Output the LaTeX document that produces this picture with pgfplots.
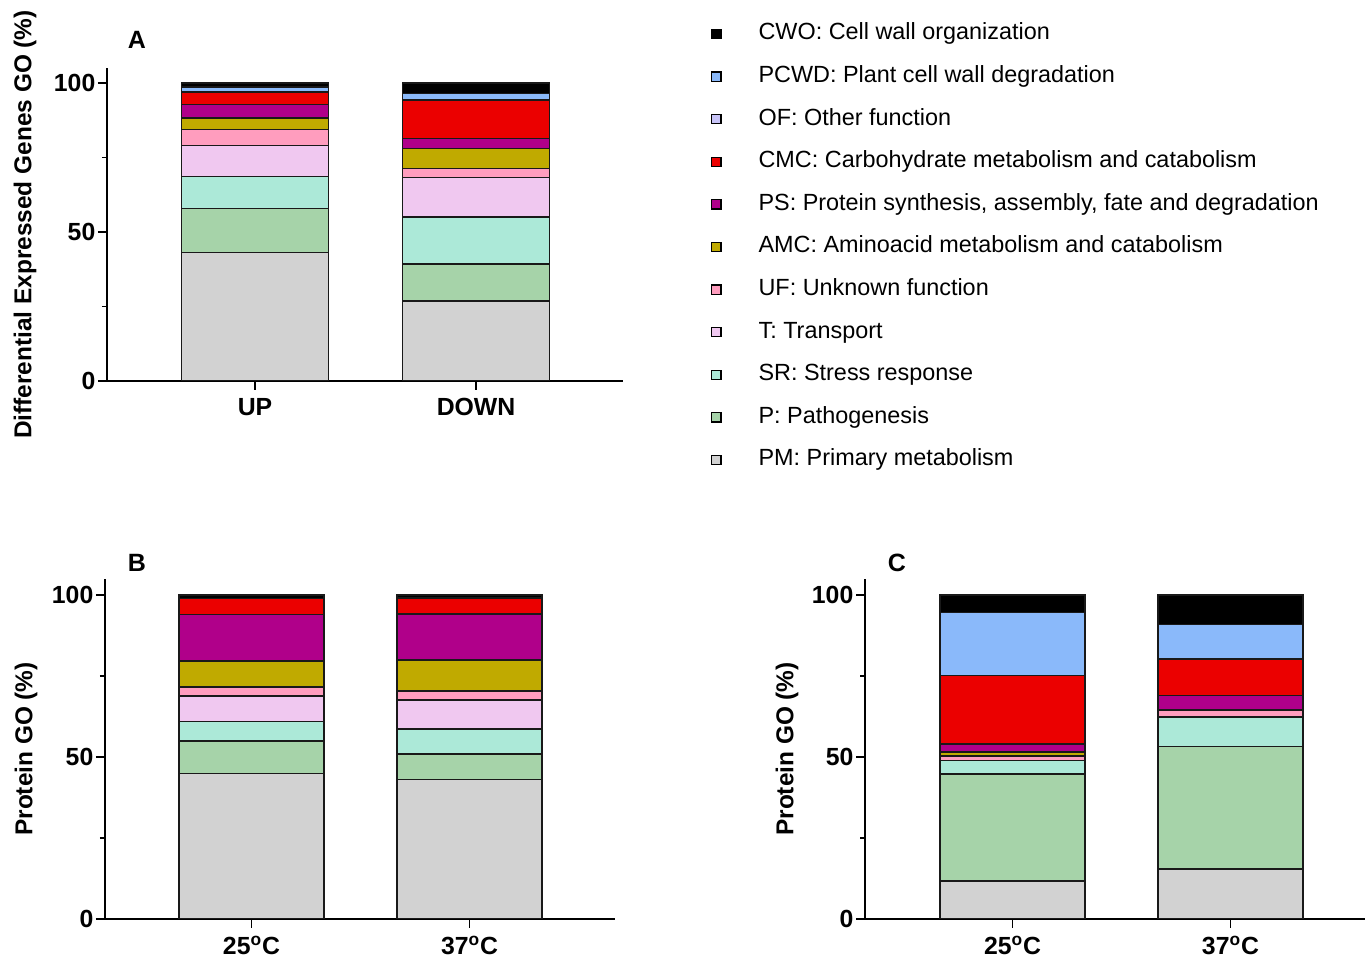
\documentclass[border=0pt]{standalone}
\usepackage{pgfplots}
\usepackage{pgfplotstable}
\pgfplotsset{compat=1.18}
\usepackage{fontspec}
\setmainfont{Liberation Sans}

\definecolor{cCWO}{HTML}{000000}
\definecolor{cPCWD}{HTML}{8AB9FA}
\definecolor{cOF}{HTML}{C8C4F8}
\definecolor{cCMC}{HTML}{EB0000}
\definecolor{cPS}{HTML}{B0008A}
\definecolor{cAMC}{HTML}{C0AA00}
\definecolor{cUF}{HTML}{FF9DBE}
\definecolor{cT}{HTML}{F0C8F0}
\definecolor{cSR}{HTML}{ACE9D8}
\definecolor{cP}{HTML}{A6D3A9}
\definecolor{cPM}{HTML}{D2D2D2}

\pgfplotstableread{
x PM P SR T UF AMC PS CMC OF PCWD CWO
0 43.1 14.8 10.7 10.4 5.4 3.9 4.4 4.2 0 1.8 1.3
1 26.9 12.4 15.7 13.3 3.0 6.7 3.3 12.9 0 2.2 3.6
}\dataA
\pgfplotstableread{
x PM P SR T UF AMC PS CMC OF PCWD CWO
0 44.9 10.1 6.0 7.9 2.8 8.0 14.3 5.0 0 0 1.0
1 43.1 7.9 7.6 9.0 2.8 9.5 14.2 5.0 0 0 0.9
}\dataB
\pgfplotstableread{
x PM P SR T UF AMC PS CMC OF PCWD CWO
0 11.8 32.9 4.2 0 1.5 1.1 2.6 21.1 0 19.5 5.3
1 15.5 37.8 9.1 0 2.2 0 4.4 11.2 0 10.8 9.0
}\dataC

\newcommand\stackbars[1]{%
  \addplot[fill=cPM] table[x=x,y=PM]{#1};
  \addplot[fill=cP] table[x=x,y=P]{#1};
  \addplot[fill=cSR] table[x=x,y=SR]{#1};
  \addplot[fill=cT] table[x=x,y=T]{#1};
  \addplot[fill=cUF] table[x=x,y=UF]{#1};
  \addplot[fill=cAMC] table[x=x,y=AMC]{#1};
  \addplot[fill=cPS] table[x=x,y=PS]{#1};
  \addplot[fill=cCMC] table[x=x,y=CMC]{#1};
  \addplot[fill=cOF] table[x=x,y=OF]{#1};
  \addplot[fill=cPCWD] table[x=x,y=PCWD]{#1};
  \addplot[fill=cCWO] table[x=x,y=CWO]{#1};
}

\pgfplotsset{
  mybar/.style={
    scale only axis,
    anchor=south west,
    ybar stacked,
    ymin=0, ymax=105,
    ytick={0,50,100}, minor ytick={25,75},
    xtick={0,1},
    axis x line*=bottom, axis y line*=left,
    tick align=outside,
    major tick length=4.5pt, minor tick length=2.5pt,
    major tick style={black, line width=0.75pt},
    minor tick style={black, line width=0.75pt},
    axis line style={line width=0.75pt, -},
    ticklabel style={font=\bfseries\fontsize{12.4}{14}\selectfont},
    yticklabel style={xshift=2.2pt},
    xticklabel style={inner sep=0pt, text depth=0pt, yshift=-3.8pt},
    /pgf/number format/assume math mode=true,
    every axis plot/.append style={draw=black!90, line width=0.8pt},
    ylabel style={font=\bfseries\fontsize{12.2}{14}\selectfont, anchor=center},
  },
  legsq/.style={legend image code/.code={\draw[fill=#1, draw=black, line width=0.6pt] (0pt,-2.3pt) rectangle (4.6pt,2.3pt);}},
}

\begin{document}
\begin{tikzpicture}
\path[use as bounding box] (0,0) rectangle (683.5pt,478.5pt);

% Panel A
\begin{axis}[mybar, at={(53.5pt,288pt)}, width=258pt, height=156.5pt,
  bar width=73.5pt, xmin=-0.67, xmax=1.665,
  xticklabels={UP,DOWN},
  ylabel={Differential Expressed Genes GO (\%)},
  ylabel style={at={(axis description cs:-0.159,0.5)}},
]
\stackbars{\dataA}
\end{axis}

% Panel B
\begin{axis}[mybar, at={(52.5pt,19pt)}, width=255pt, height=170pt,
  bar width=72.5pt, xmin=-0.672, xmax=1.667,
  xticklabels={25\textsuperscript{o}C,37\textsuperscript{o}C},
  ylabel={Protein GO (\%)},
  ylabel style={at={(axis description cs:-0.155,0.5)}},
]
\stackbars{\dataB}
\end{axis}

% Panel C
\begin{axis}[mybar, at={(432.5pt,19pt)}, width=250pt, height=170pt,
  bar width=72.5pt, xmin=-0.677, xmax=1.617,
  xticklabels={25\textsuperscript{o}C,37\textsuperscript{o}C},
  ylabel={Protein GO (\%)},
  ylabel style={at={(axis description cs:-0.156,0.5)}},
]
\stackbars{\dataC}
\end{axis}

% Legend
\begin{axis}[scale only axis, hide axis, width=100pt, height=100pt,
  at={(355.6pt,367pt)}, anchor=south west,
  xmin=0, xmax=1, ymin=0, ymax=1,
  legend cell align=left,
  legend style={at={(0,1)}, anchor=north west, draw=none, fill=none,
    inner sep=0pt, outer sep=0pt, row sep=10.3pt,
    font=\fontsize{11.7}{13}\selectfont,
    nodes={inner sep=0pt, text height=8.5pt, text depth=2.5pt},
    /tikz/every odd column/.append style={column sep=18.5pt}},
]
\addlegendimage{legsq=cCWO}\addlegendentry{CWO: Cell wall organization}
\addlegendimage{legsq=cPCWD}\addlegendentry{PCWD: Plant cell wall degradation}
\addlegendimage{legsq=cOF}\addlegendentry{OF: Other function}
\addlegendimage{legsq=cCMC}\addlegendentry{CMC: Carbohydrate metabolism and catabolism}
\addlegendimage{legsq=cPS}\addlegendentry{PS: Protein synthesis, assembly, fate and degradation}
\addlegendimage{legsq=cAMC}\addlegendentry{AMC: Aminoacid metabolism and catabolism}
\addlegendimage{legsq=cUF}\addlegendentry{UF: Unknown function}
\addlegendimage{legsq=cT}\addlegendentry{T: Transport}
\addlegendimage{legsq=cSR}\addlegendentry{SR: Stress response}
\addlegendimage{legsq=cP}\addlegendentry{P: Pathogenesis}
\addlegendimage{legsq=cPM}\addlegendentry{PM: Primary metabolism}
\end{axis}

\node[font=\bfseries\fontsize{12.5}{14}\selectfont] at (68.5pt,458.5pt) {A};
\node[font=\bfseries\fontsize{12.5}{14}\selectfont] at (68.5pt,196.8pt) {B};
\node[font=\bfseries\fontsize{12.5}{14}\selectfont] at (448.5pt,196.8pt) {C};
\end{tikzpicture}
\end{document}
